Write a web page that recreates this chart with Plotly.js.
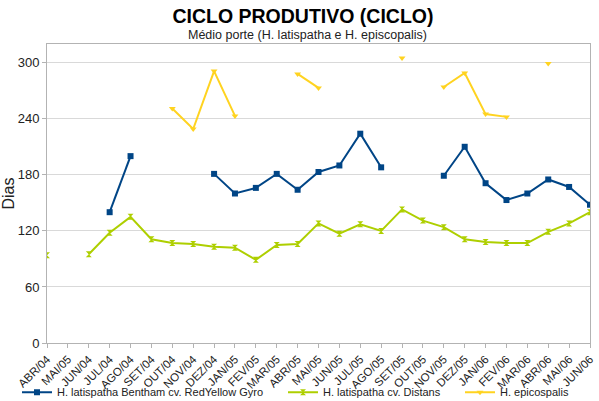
<!DOCTYPE html>
<html><head><meta charset="utf-8">
<script src="https://cdn.plot.ly/plotly-3.0.1.min.js"></script>
<style>body{margin:0;padding:0;background:#fff}#c{width:599px;height:401px}</style>
</head><body><div id="c"></div>
<script>
const categories = ["ABR/04","MAI/05","JUN/04","JUL/04","AGO/04","SET/04","OUT/04","NOV/04","DEZ/04","JAN/05","FEV/05","MAR/05","ABR/05","MAI/05","JUN/05","JUL/05","AGO/05","SET/05","OUT/05","NOV/05","DEZ/05","JAN/06","FEV/06","MAR/06","ABR/06","MAI/06","JUN/06"];
const redYellowGyro = [null,null,null,140,200,null,null,null,181,160,166,181,164,183,190,224,188,null,null,179,210,171,153,160,175,167,148];
const distans = [94,null,95,118,135,111,107,106,103,102,89,105,106,128,117,127,120,143,131,124,111,108,107,107,119,128,140];
const epicospalis = [null,null,null,null,null,null,251,229,291,243,null,null,288,273,null,null,null,305,null,274,289,245,242,null,299,null,null];
const seriesNames = ["H. latispatha Bentham cv. RedYellow Gyro","H. latispatha cv. Distans","H. epicospalis"];

const xIdx = categories.map((_, i) => i);
const font = "Liberation Sans, Arial, sans-serif";

const traces = [
  {x: xIdx, y: redYellowGyro, name: seriesNames[0], mode: "lines+markers",
   line: {color: "#004586", width: 2}, marker: {symbol: "square", size: 6, color: "#004586"}, legend: "legend"},
  {x: xIdx, y: distans, name: seriesNames[1], mode: "lines+markers",
   line: {color: "#aecf00", width: 2}, marker: {symbol: "hourglass", size: 6, color: "#aecf00"}, legend: "legend2"},
  {x: xIdx, y: epicospalis, name: seriesNames[2], mode: "lines+markers",
   line: {color: "#ffd320", width: 2}, marker: {symbol: "triangle-down", size: 6, color: "#ffd320"}, legend: "legend3"}
];

const legBase = {orientation: "h", xref: "container", yref: "container", yanchor: "middle",
  y: 0.022, font: {family: font, size: 11, color: "#222"}, itemwidth: 30, bgcolor: "rgba(0,0,0,0)"};

const layout = {
  width: 599, height: 401,
  margin: {l: 47, r: 9, t: 44, b: 58},
  paper_bgcolor: "#fff", plot_bgcolor: "#fff",
  font: {family: font, color: "#222"},
  showlegend: true,
  legend: Object.assign({}, legBase, {x: 17/599}),
  legend2: Object.assign({}, legBase, {x: 283/599}),
  legend3: Object.assign({}, legBase, {x: 460/599}),
  xaxis: {
    range: [0, 26], tickmode: "array", tickvals: xIdx, ticktext: categories,
    tickangle: -45, tickfont: {family: font, size: 11.5, color: "#222"},
    showgrid: false, zeroline: false, showline: true, linecolor: "#b3b3b3", mirror: true,
    ticks: "outside", ticklen: 4, tickcolor: "#b3b3b3"
  },
  yaxis: {
    range: [0, 320], tickvals: [0,60,120,180,240,300], showgrid: true, gridcolor: "#d9d9d9",
    zeroline: false, showline: true, linecolor: "#b3b3b3", mirror: true,
    ticks: "outside", ticklen: 4, tickcolor: "#b3b3b3",
    tickfont: {family: font, size: 13, color: "#222"},
    title: {text: "Dias", font: {family: font, size: 16, color: "#222"}, standoff: 2}
  },
  title: {text: "<b>CICLO PRODUTIVO (CICLO)</b>", font: {family: font, size: 19.5, color: "#000"},
    x: 303/599, xref: "container", y: 1 - 16/401, yref: "container", yanchor: "middle", xanchor: "center"},
  annotations: [{text: "Médio porte (H. latispatha e H. episcopalis)", xref: "paper", yref: "paper",
    x: (307-47)/543, y: 1 + 9/299, xanchor: "center", yanchor: "middle", showarrow: false,
    font: {family: font, size: 12.5, color: "#222"}}]
};

Plotly.newPlot("c", traces, layout, {displayModeBar: false, staticPlot: true});
</script></body></html>
